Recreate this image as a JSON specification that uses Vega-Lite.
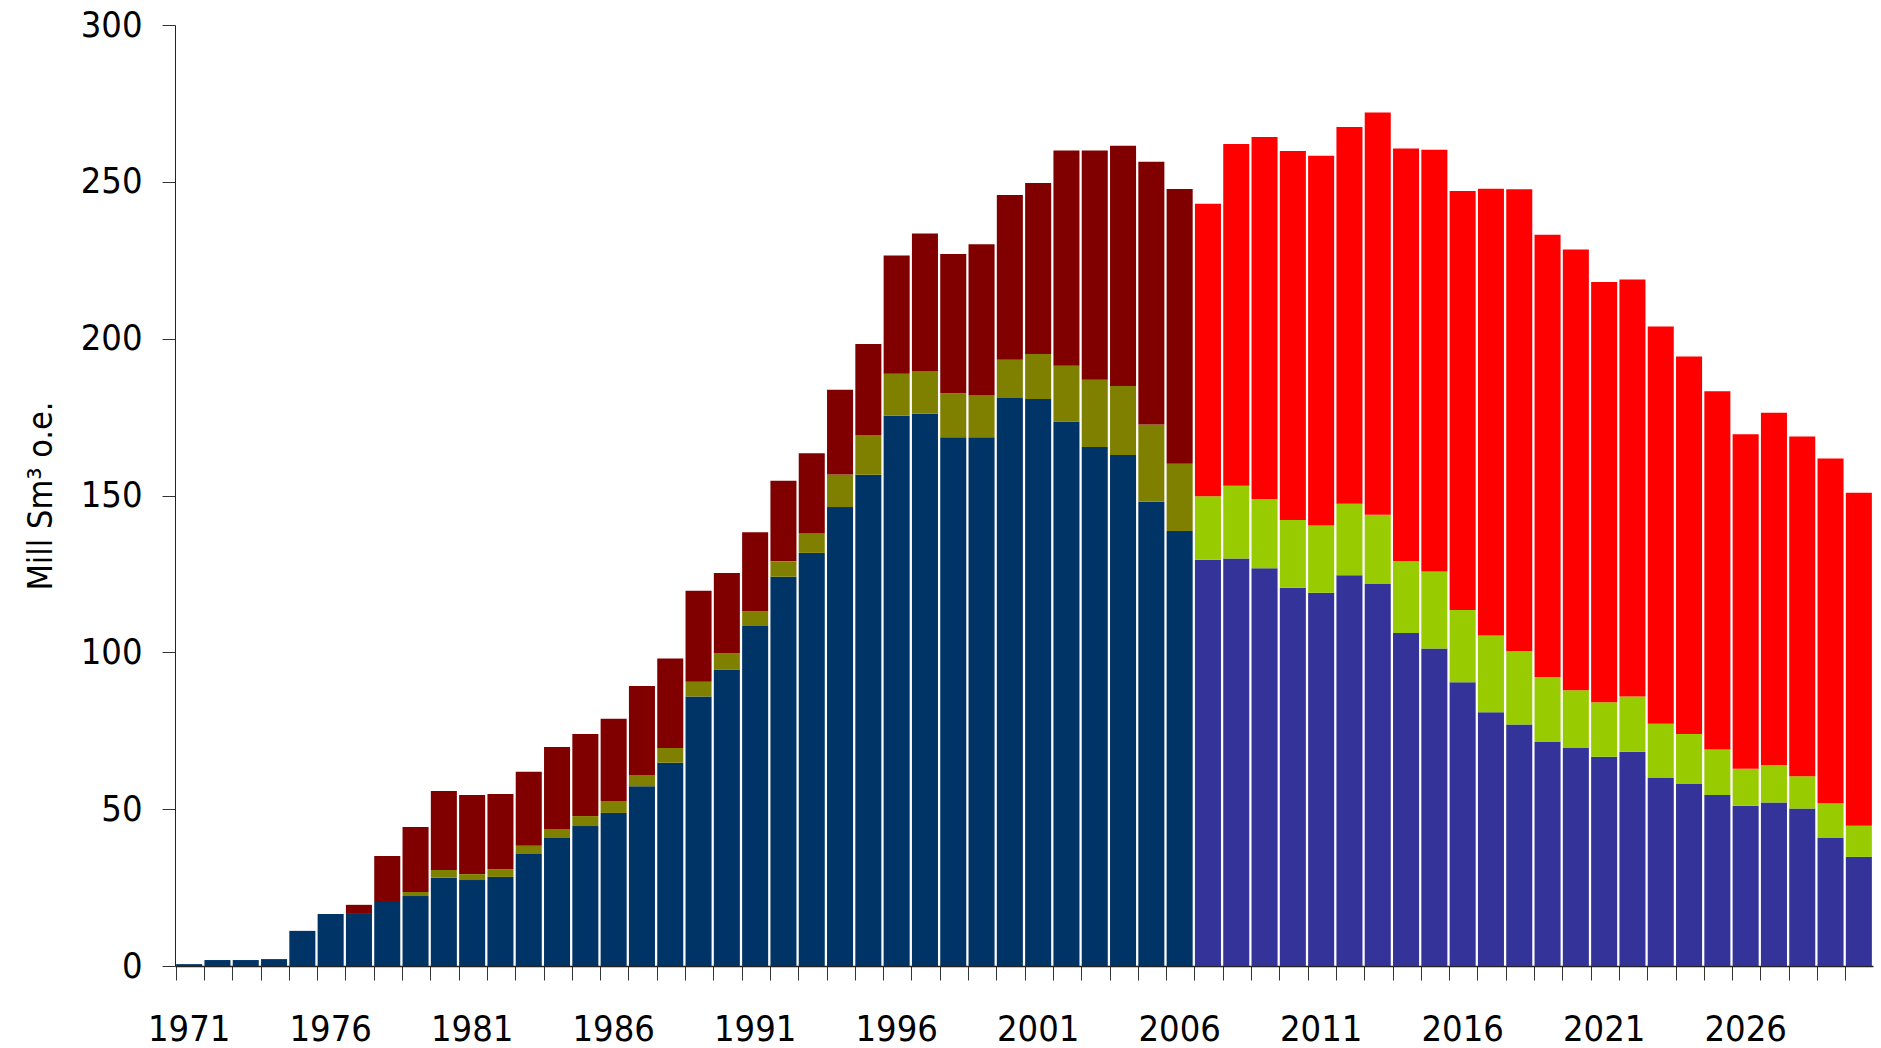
{
  "$schema": "https://vega.github.io/schema/vega-lite/v6.json",
  "width": 1698,
  "height": 941,
  "autosize": {"type": "none"},
  "padding": {"left": 175, "top": 25, "right": 8, "bottom": 82},
  "background": "white",
  "data": {"values": [
    {"year": 1971, "series": "Crude oil", "value": 0.6},
    {"year": 1972, "series": "Crude oil", "value": 1.9},
    {"year": 1973, "series": "Crude oil", "value": 1.9},
    {"year": 1974, "series": "Crude oil", "value": 2.2},
    {"year": 1975, "series": "Crude oil", "value": 11.2},
    {"year": 1976, "series": "Crude oil", "value": 16.6},
    {"year": 1977, "series": "Crude oil", "value": 16.6},
    {"year": 1977, "series": "Natural gas", "value": 2.9},
    {"year": 1978, "series": "Crude oil", "value": 20.7},
    {"year": 1978, "series": "Natural gas", "value": 14.4},
    {"year": 1979, "series": "Crude oil", "value": 22.3},
    {"year": 1979, "series": "NGL", "value": 1.3},
    {"year": 1979, "series": "Natural gas", "value": 20.7},
    {"year": 1980, "series": "Crude oil", "value": 28.1},
    {"year": 1980, "series": "NGL", "value": 2.5},
    {"year": 1980, "series": "Natural gas", "value": 25.2},
    {"year": 1981, "series": "Crude oil", "value": 27.4},
    {"year": 1981, "series": "NGL", "value": 1.9},
    {"year": 1981, "series": "Natural gas", "value": 25.2},
    {"year": 1982, "series": "Crude oil", "value": 28.4},
    {"year": 1982, "series": "NGL", "value": 2.5},
    {"year": 1982, "series": "Natural gas", "value": 23.9},
    {"year": 1983, "series": "Crude oil", "value": 35.7},
    {"year": 1983, "series": "NGL", "value": 2.6},
    {"year": 1983, "series": "Natural gas", "value": 23.6},
    {"year": 1984, "series": "Crude oil", "value": 40.8},
    {"year": 1984, "series": "NGL", "value": 2.9},
    {"year": 1984, "series": "Natural gas", "value": 26.1},
    {"year": 1985, "series": "Crude oil", "value": 44.6},
    {"year": 1985, "series": "NGL", "value": 3.2},
    {"year": 1985, "series": "Natural gas", "value": 26.2},
    {"year": 1986, "series": "Crude oil", "value": 48.8},
    {"year": 1986, "series": "NGL", "value": 3.8},
    {"year": 1986, "series": "Natural gas", "value": 26.2},
    {"year": 1987, "series": "Crude oil", "value": 57.3},
    {"year": 1987, "series": "NGL", "value": 3.6},
    {"year": 1987, "series": "Natural gas", "value": 28.4},
    {"year": 1988, "series": "Crude oil", "value": 64.8},
    {"year": 1988, "series": "NGL", "value": 4.7},
    {"year": 1988, "series": "Natural gas", "value": 28.5},
    {"year": 1989, "series": "Crude oil", "value": 85.9},
    {"year": 1989, "series": "NGL", "value": 4.7},
    {"year": 1989, "series": "Natural gas", "value": 29.0},
    {"year": 1990, "series": "Crude oil", "value": 94.4},
    {"year": 1990, "series": "NGL", "value": 5.2},
    {"year": 1990, "series": "Natural gas", "value": 25.7},
    {"year": 1991, "series": "Crude oil", "value": 108.4},
    {"year": 1991, "series": "NGL", "value": 4.7},
    {"year": 1991, "series": "Natural gas", "value": 25.2},
    {"year": 1992, "series": "Crude oil", "value": 124.1},
    {"year": 1992, "series": "NGL", "value": 4.9},
    {"year": 1992, "series": "Natural gas", "value": 25.7},
    {"year": 1993, "series": "Crude oil", "value": 131.7},
    {"year": 1993, "series": "NGL", "value": 6.2},
    {"year": 1993, "series": "Natural gas", "value": 25.6},
    {"year": 1994, "series": "Crude oil", "value": 146.3},
    {"year": 1994, "series": "NGL", "value": 10.4},
    {"year": 1994, "series": "Natural gas", "value": 27.0},
    {"year": 1995, "series": "Crude oil", "value": 156.6},
    {"year": 1995, "series": "NGL", "value": 12.7},
    {"year": 1995, "series": "Natural gas", "value": 29.0},
    {"year": 1996, "series": "Crude oil", "value": 175.4},
    {"year": 1996, "series": "NGL", "value": 13.4},
    {"year": 1996, "series": "Natural gas", "value": 37.7},
    {"year": 1997, "series": "Crude oil", "value": 176.1},
    {"year": 1997, "series": "NGL", "value": 13.4},
    {"year": 1997, "series": "Natural gas", "value": 44.0},
    {"year": 1998, "series": "Crude oil", "value": 168.6},
    {"year": 1998, "series": "NGL", "value": 14.0},
    {"year": 1998, "series": "Natural gas", "value": 44.4},
    {"year": 1999, "series": "Crude oil", "value": 168.6},
    {"year": 1999, "series": "NGL", "value": 13.3},
    {"year": 1999, "series": "Natural gas", "value": 48.2},
    {"year": 2000, "series": "Crude oil", "value": 181.1},
    {"year": 2000, "series": "NGL", "value": 12.2},
    {"year": 2000, "series": "Natural gas", "value": 52.5},
    {"year": 2001, "series": "Crude oil", "value": 180.8},
    {"year": 2001, "series": "NGL", "value": 14.3},
    {"year": 2001, "series": "Natural gas", "value": 54.5},
    {"year": 2002, "series": "Crude oil", "value": 173.6},
    {"year": 2002, "series": "NGL", "value": 17.8},
    {"year": 2002, "series": "Natural gas", "value": 68.6},
    {"year": 2003, "series": "Crude oil", "value": 165.5},
    {"year": 2003, "series": "NGL", "value": 21.4},
    {"year": 2003, "series": "Natural gas", "value": 73.1},
    {"year": 2004, "series": "Crude oil", "value": 162.9},
    {"year": 2004, "series": "NGL", "value": 22.0},
    {"year": 2004, "series": "Natural gas", "value": 76.6},
    {"year": 2005, "series": "Crude oil", "value": 148.0},
    {"year": 2005, "series": "NGL", "value": 24.6},
    {"year": 2005, "series": "Natural gas", "value": 83.8},
    {"year": 2006, "series": "Crude oil", "value": 138.7},
    {"year": 2006, "series": "NGL", "value": 21.4},
    {"year": 2006, "series": "Natural gas", "value": 87.6},
    {"year": 2007, "series": "Crude oil forecast", "value": 129.5},
    {"year": 2007, "series": "NGL forecast", "value": 20.3},
    {"year": 2007, "series": "Natural gas forecast", "value": 93.2},
    {"year": 2008, "series": "Crude oil forecast", "value": 129.9},
    {"year": 2008, "series": "NGL forecast", "value": 23.2},
    {"year": 2008, "series": "Natural gas forecast", "value": 109.0},
    {"year": 2009, "series": "Crude oil forecast", "value": 126.8},
    {"year": 2009, "series": "NGL forecast", "value": 22.1},
    {"year": 2009, "series": "Natural gas forecast", "value": 115.4},
    {"year": 2010, "series": "Crude oil forecast", "value": 120.6},
    {"year": 2010, "series": "NGL forecast", "value": 21.6},
    {"year": 2010, "series": "Natural gas forecast", "value": 117.6},
    {"year": 2011, "series": "Crude oil forecast", "value": 119.0},
    {"year": 2011, "series": "NGL forecast", "value": 21.4},
    {"year": 2011, "series": "Natural gas forecast", "value": 117.9},
    {"year": 2012, "series": "Crude oil forecast", "value": 124.6},
    {"year": 2012, "series": "NGL forecast", "value": 22.8},
    {"year": 2012, "series": "Natural gas forecast", "value": 120.1},
    {"year": 2013, "series": "Crude oil forecast", "value": 121.8},
    {"year": 2013, "series": "NGL forecast", "value": 22.1},
    {"year": 2013, "series": "Natural gas forecast", "value": 128.2},
    {"year": 2014, "series": "Crude oil forecast", "value": 106.2},
    {"year": 2014, "series": "NGL forecast", "value": 22.9},
    {"year": 2014, "series": "Natural gas forecast", "value": 131.5},
    {"year": 2015, "series": "Crude oil forecast", "value": 101.2},
    {"year": 2015, "series": "NGL forecast", "value": 24.6},
    {"year": 2015, "series": "Natural gas forecast", "value": 134.4},
    {"year": 2016, "series": "Crude oil forecast", "value": 90.5},
    {"year": 2016, "series": "NGL forecast", "value": 23.0},
    {"year": 2016, "series": "Natural gas forecast", "value": 133.6},
    {"year": 2017, "series": "Crude oil forecast", "value": 80.9},
    {"year": 2017, "series": "NGL forecast", "value": 24.5},
    {"year": 2017, "series": "Natural gas forecast", "value": 142.4},
    {"year": 2018, "series": "Crude oil forecast", "value": 77.0},
    {"year": 2018, "series": "NGL forecast", "value": 23.4},
    {"year": 2018, "series": "Natural gas forecast", "value": 147.2},
    {"year": 2019, "series": "Crude oil forecast", "value": 71.4},
    {"year": 2019, "series": "NGL forecast", "value": 20.7},
    {"year": 2019, "series": "Natural gas forecast", "value": 141.0},
    {"year": 2020, "series": "Crude oil forecast", "value": 69.5},
    {"year": 2020, "series": "NGL forecast", "value": 18.4},
    {"year": 2020, "series": "Natural gas forecast", "value": 140.5},
    {"year": 2021, "series": "Crude oil forecast", "value": 66.7},
    {"year": 2021, "series": "NGL forecast", "value": 17.4},
    {"year": 2021, "series": "Natural gas forecast", "value": 134.0},
    {"year": 2022, "series": "Crude oil forecast", "value": 68.3},
    {"year": 2022, "series": "NGL forecast", "value": 17.6},
    {"year": 2022, "series": "Natural gas forecast", "value": 133.0},
    {"year": 2023, "series": "Crude oil forecast", "value": 59.9},
    {"year": 2023, "series": "NGL forecast", "value": 17.3},
    {"year": 2023, "series": "Natural gas forecast", "value": 126.7},
    {"year": 2024, "series": "Crude oil forecast", "value": 58.0},
    {"year": 2024, "series": "NGL forecast", "value": 16.0},
    {"year": 2024, "series": "Natural gas forecast", "value": 120.3},
    {"year": 2025, "series": "Crude oil forecast", "value": 54.5},
    {"year": 2025, "series": "NGL forecast", "value": 14.5},
    {"year": 2025, "series": "Natural gas forecast", "value": 114.2},
    {"year": 2026, "series": "Crude oil forecast", "value": 51.1},
    {"year": 2026, "series": "NGL forecast", "value": 11.8},
    {"year": 2026, "series": "Natural gas forecast", "value": 106.6},
    {"year": 2027, "series": "Crude oil forecast", "value": 52.1},
    {"year": 2027, "series": "NGL forecast", "value": 12.0},
    {"year": 2027, "series": "Natural gas forecast", "value": 112.3},
    {"year": 2028, "series": "Crude oil forecast", "value": 50.2},
    {"year": 2028, "series": "NGL forecast", "value": 10.3},
    {"year": 2028, "series": "Natural gas forecast", "value": 108.3},
    {"year": 2029, "series": "Crude oil forecast", "value": 40.8},
    {"year": 2029, "series": "NGL forecast", "value": 11.1},
    {"year": 2029, "series": "Natural gas forecast", "value": 109.9},
    {"year": 2030, "series": "Crude oil forecast", "value": 34.8},
    {"year": 2030, "series": "NGL forecast", "value": 9.9},
    {"year": 2030, "series": "Natural gas forecast", "value": 106.2}
  ]},
  "mark": {"type": "bar"},
  "encoding": {
    "x": {
      "field": "year",
      "type": "ordinal",
      "scale": {"paddingInner": 0.08, "paddingOuter": 0.04},
      "axis": {
        "title": null,
        "bandPosition": 0,
        "labelAngle": 0,
        "labelDx": 14,
        "labelExpr": "(+datum.value - 1971) % 5 == 0 ? datum.label : ''",
        "labelOverlap": false,
        "labelBound": false,
        "labelFont": "'Liberation Sans Narrow', 'DejaVu Sans Condensed', 'Arial Narrow', Roboto, sans-serif",
        "labelFontSize": 36,
        "labelColor": "black",
        "labelPadding": 32,
        "tickSize": 14,
        "tickColor": "#333333",
        "domainColor": "#222222",
        "domainWidth": 1.5
      }
    },
    "y": {
      "field": "value",
      "type": "quantitative",
      "stack": "zero",
      "scale": {"domain": [0, 300], "nice": false},
      "axis": {
        "values": [0, 50, 100, 150, 200, 250, 300],
        "title": "Mill Sm³ o.e.",
        "titleFont": "'Liberation Sans Narrow', 'DejaVu Sans Condensed', 'Arial Narrow', Roboto, sans-serif",
        "titleFontSize": 34,
        "titleFontWeight": "normal",
        "titleColor": "black",
        "titlePadding": 22,
        "labelFont": "'Liberation Sans Narrow', 'DejaVu Sans Condensed', 'Arial Narrow', Roboto, sans-serif",
        "labelFontSize": 36,
        "labelColor": "black",
        "labelPadding": 20,
        "tickSize": 13,
        "tickColor": "#333333",
        "domainColor": "#222222",
        "grid": false
      }
    },
    "color": {
      "field": "series",
      "type": "nominal",
      "scale": {
        "domain": ["Crude oil", "NGL", "Natural gas", "Crude oil forecast", "NGL forecast", "Natural gas forecast"],
        "range": ["#003366", "#808000", "#800000", "#333399", "#99CC00", "#FF0000"]
      },
      "legend": null
    },
    "order": {"field": "series", "type": "nominal", "sort": "ascending"}
  },
  "config": {"view": {"stroke": null}}
}
